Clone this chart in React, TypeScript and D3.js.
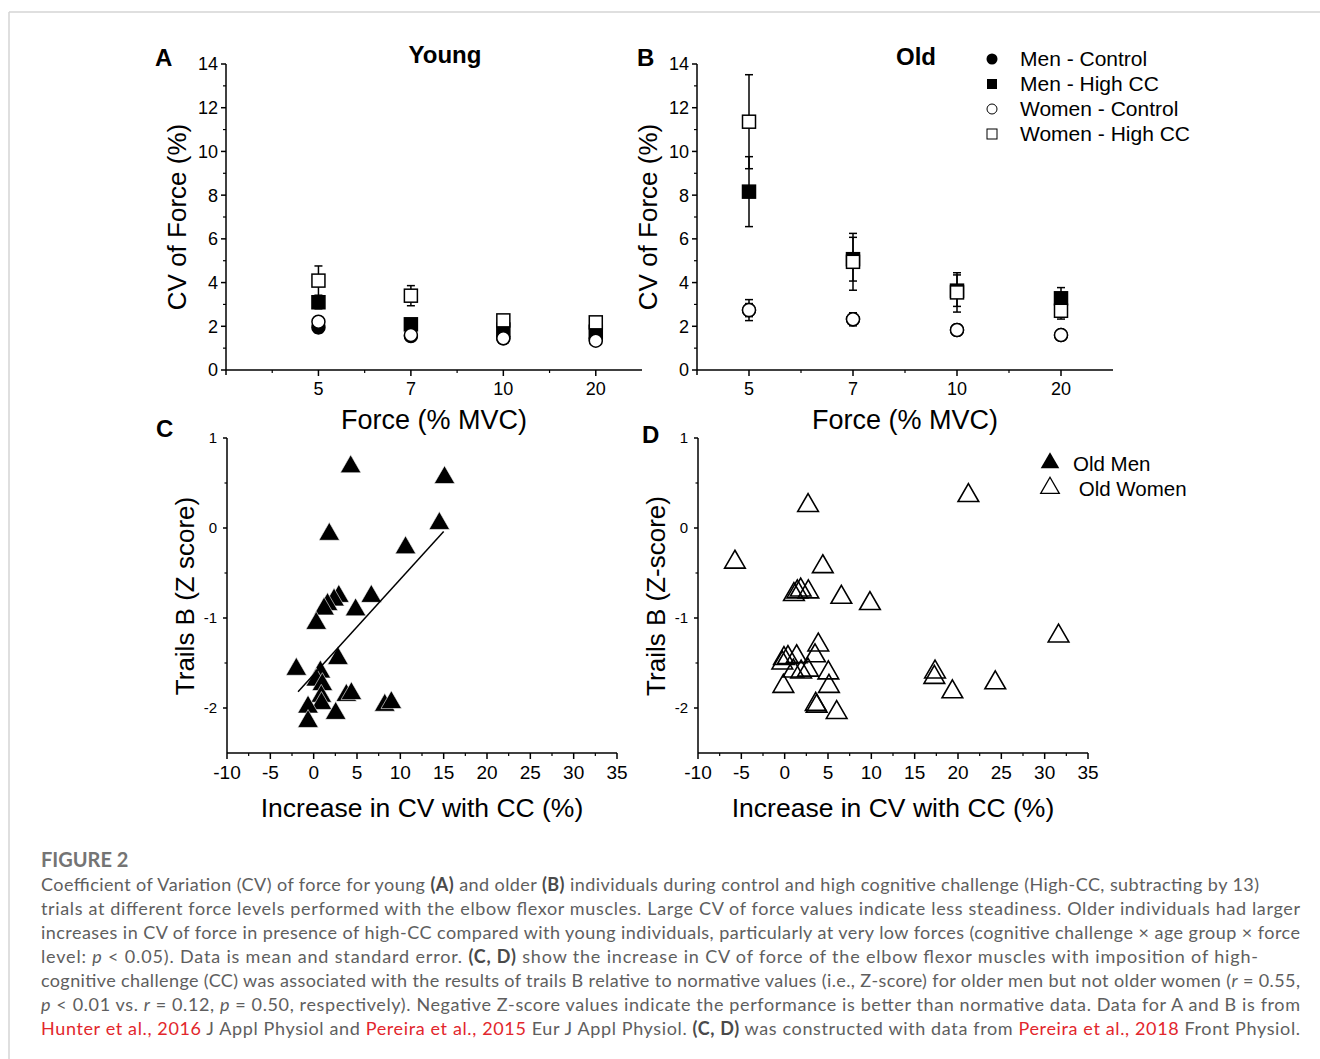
import * as d3 from "d3";

// ── Data: panels A / B (CV of force, mean ± SE) ───────────────
const forceLevels = ["5", "7", "10", "20"];

const youngMenControl = [1.95, 1.55, 1.45, 1.4];
const youngMenControlSE = [0.25, 0.12, 0.1, 0.1];
const youngMenHighCC = [3.1, 2.09, 1.85, 1.75];
const youngMenHighCCSE = [0.3, 0.2, 0.15, 0.15];
const youngWomenControl = [2.21, 1.6, 1.45, 1.34];
const youngWomenControlSE = [0.2, 0.12, 0.1, 0.1];
const youngWomenHighCC = [4.09, 3.4, 2.27, 2.18];
const youngWomenHighCCSE = [0.67, 0.46, 0.15, 0.15];

const oldMenControl = [2.74, 2.32, 1.83, 1.6];
const oldMenControlSE = [0.3, 0.2, 0.2, 0.15];
const oldMenHighCC = [8.16, 5.07, 3.63, 3.28];
const oldMenHighCCSE = [1.6, 1.0, 0.72, 0.49];
const oldWomenControl = [2.74, 2.32, 1.83, 1.6];
const oldWomenControlSE = [0.48, 0.3, 0.25, 0.2];
const oldWomenHighCC = [11.36, 4.95, 3.55, 2.71];
const oldWomenHighCCSE = [2.15, 1.3, 0.9, 0.38];

// ── Data: panels C / D (increase in CV vs Trails B z-score) ───
const oldMenIncrease = [4.27, 15.1, 14.5, 1.8, 10.6, 6.65, 2.9, 2.35, 1.6, 1.2, 4.84, 0.3, 2.8, -2.0, 0.77, 0.3, 1.0, 0.88, 0.9, 3.77, 4.35, -0.65, 2.54, -0.65, 8.2, 8.96];
const oldMenTrailsB = [0.68, 0.56, 0.05, -0.07, -0.22, -0.76, -0.76, -0.8, -0.85, -0.9, -0.91, -1.06, -1.45, -1.57, -1.6, -1.69, -1.74, -1.87, -1.95, -1.86, -1.84, -1.99, -2.06, -2.15, -1.97, -1.94];
const oldMenFitX = [-1.8, 15.0];
const oldMenFitY = [-1.82, -0.04];

const oldWomenIncrease = [2.7, 21.2, -5.74, 4.4, 1.85, 1.46, 1.07, 2.73, 6.54, 9.84, 31.6, 3.88, -0.08, 0.38, 1.38, 3.5, -0.27, 1.0, 1.9, 2.69, 5.04, 5.11, -0.15, 3.58, 3.69, 6.0, 17.35, 17.27, 19.35, 24.3];
const oldWomenTrailsB = [0.25, 0.36, -0.38, -0.43, -0.69, -0.71, -0.74, -0.71, -0.77, -0.84, -1.2, -1.3, -1.45, -1.44, -1.43, -1.42, -1.5, -1.59, -1.6, -1.58, -1.61, -1.76, -1.76, -1.96, -1.98, -2.05, -1.6, -1.66, -1.82, -1.72];

const legendAB = ["Men - Control", "Men - High CC", "Women - Control", "Women - High CC"];
const legendCD = ["Old Men", " Old Women"];

// ── Layout ────────────────────────────────────────────────────
const W = 1320;
const H = 1059;
const FONT = "'Liberation Sans', Arial, sans-serif";
const CAP_FONT = "Lato, 'Open Sans', sans-serif";

const xA = d3.scaleLinear().domain([0, 4.5]).range([226, 642]);
const xB = d3.scaleLinear().domain([0.5, 4.5]).range([697, 1113]);
const yAB = d3.scaleLinear().domain([0, 14]).range([370, 64]);
const xC = d3.scaleLinear().domain([-10, 35]).range([227, 617]);
const xD = d3.scaleLinear().domain([-10, 35]).range([698, 1088]);
const yCD = d3.scaleLinear().domain([-2.5, 1]).range([753, 438]);

const triPath = d3.symbol(d3.symbolTriangle, 185)();
const triLegend = d3.symbol(d3.symbolTriangle, 150)();

type Series = { vals: number[]; se: number[]; shape: "circle" | "square"; filled: boolean };

function seriesFor(young: boolean): Series[] {
  return young
    ? [
        { vals: youngMenControl, se: youngMenControlSE, shape: "circle", filled: true },
        { vals: youngMenHighCC, se: youngMenHighCCSE, shape: "square", filled: true },
        { vals: youngWomenHighCC, se: youngWomenHighCCSE, shape: "square", filled: false },
        { vals: youngWomenControl, se: youngWomenControlSE, shape: "circle", filled: false },
      ]
    : [
        { vals: oldMenControl, se: oldMenControlSE, shape: "circle", filled: true },
        { vals: oldMenHighCC, se: oldMenHighCCSE, shape: "square", filled: true },
        { vals: oldWomenHighCC, se: oldWomenHighCCSE, shape: "square", filled: false },
        { vals: oldWomenControl, se: oldWomenControlSE, shape: "circle", filled: false },
      ];
}

function Marker({ shape, filled, cx, cy, s }: { shape: string; filled: boolean; cx: number; cy: number; s: number }) {
  const fill = filled ? "#000" : "#fff";
  if (shape === "circle")
    return <circle cx={cx} cy={cy} r={s / 2} fill={fill} stroke="#000" strokeWidth={1.5} />;
  return <rect x={cx - s / 2} y={cy - s / 2} width={s} height={s} fill={fill} stroke="#000" strokeWidth={1.5} />;
}

// ── Panels A / B ──────────────────────────────────────────────
function CVPanel({ x, young }: { x: d3.ScaleLinear<number, number>; young: boolean }) {
  const [x0, x1] = x.range();
  const y0 = yAB(0);
  const series = seriesFor(young);
  const minor = [0.5, 1.5, 2.5, 3.5].filter(v => v > x.domain()[0]);
  return (
    <g>
      {/* axes */}
      <line x1={x0} x2={x1} y1={y0} y2={y0} stroke="#000" strokeWidth={1.5} />
      <line x1={x0} x2={x0} y1={y0} y2={yAB(14)} stroke="#000" strokeWidth={1.5} />
      <line x1={x0} x2={x0} y1={y0} y2={y0 + 5} stroke="#000" strokeWidth={1.5} />
      {d3.range(0, 15, 2).map(t => (
        <g key={t}>
          <line x1={x0 - 5} x2={x0} y1={yAB(t)} y2={yAB(t)} stroke="#000" strokeWidth={1.5} />
          <text x={x0 - 8} y={yAB(t)} dy="0.36em" textAnchor="end" fontSize={18} fontFamily={FONT}>{t}</text>
        </g>
      ))}
      {d3.range(1, 14, 2).map(t => (
        <line key={t} x1={x0 - 3} x2={x0} y1={yAB(t)} y2={yAB(t)} stroke="#000" strokeWidth={1.2} />
      ))}
      {forceLevels.map((f, i) => (
        <g key={f}>
          <line x1={x(i + 1)} x2={x(i + 1)} y1={y0} y2={y0 + 6} stroke="#000" strokeWidth={1.5} />
          <text x={x(i + 1)} y={y0 + 25} textAnchor="middle" fontSize={18} fontFamily={FONT}>{f}</text>
        </g>
      ))}
      {minor.map(t => (
        <line key={t} x1={x(t)} x2={x(t)} y1={y0} y2={y0 + 3} stroke="#000" strokeWidth={1.2} />
      ))}

      {/* error bars */}
      {series.map((s, si) =>
        s.vals.map((v, i) => {
          const cx = x(i + 1);
          const lo = yAB(v - s.se[i]);
          const hi = yAB(v + s.se[i]);
          return (
            <g key={`e${si}-${i}`} stroke="#000" strokeWidth={1.5}>
              <line x1={cx} x2={cx} y1={lo} y2={hi} />
              <line x1={cx - 4} x2={cx + 4} y1={lo} y2={lo} />
              <line x1={cx - 4} x2={cx + 4} y1={hi} y2={hi} />
            </g>
          );
        })
      )}
      {/* markers */}
      {series.map((s, si) =>
        s.vals.map((v, i) => (
          <Marker key={`m${si}-${i}`} shape={s.shape} filled={s.filled} cx={x(i + 1)} cy={yAB(v)} s={13} />
        ))
      )}

      {/* titles */}
      <text x={(x0 + x1) / 2} y={y0 + 59} textAnchor="middle" fontSize={27} fontFamily={FONT}>Force (% MVC)</text>
      <text transform={`translate(${x0 - 40},${217}) rotate(-90)`} textAnchor="middle" fontSize={26} fontFamily={FONT}>
        CV of Force (%)
      </text>
    </g>
  );
}

// ── Panels C / D ──────────────────────────────────────────────
function ZPanel({ x, xs, ys, filled, title }: { x: d3.ScaleLinear<number, number>; xs: number[]; ys: number[]; filled: boolean; title: string }) {
  const [x0, x1] = x.range();
  const y0 = yCD(-2.5);
  return (
    <g>
      <line x1={x0} x2={x1} y1={y0} y2={y0} stroke="#000" strokeWidth={1.5} />
      <line x1={x0} x2={x0} y1={y0} y2={yCD(1)} stroke="#000" strokeWidth={1.5} />
      {[-2, -1, 0, 1].map(t => (
        <g key={t}>
          <line x1={x0 - 4} x2={x0} y1={yCD(t)} y2={yCD(t)} stroke="#000" strokeWidth={1.5} />
          <text x={x0 - 10} y={yCD(t)} dy="0.36em" textAnchor="end" fontSize={15} fontFamily={FONT}>{t}</text>
        </g>
      ))}
      {[-1.5, -0.5, 0.5].map(t => (
        <line key={t} x1={x0 - 2.5} x2={x0} y1={yCD(t)} y2={yCD(t)} stroke="#000" strokeWidth={1.2} />
      ))}
      {d3.range(-10, 36, 5).map(t => (
        <g key={t}>
          <line x1={x(t)} x2={x(t)} y1={y0} y2={y0 + 6} stroke="#000" strokeWidth={1.5} />
          <text x={x(t)} y={y0 + 26} textAnchor="middle" fontSize={19} fontFamily={FONT}>{t}</text>
        </g>
      ))}
      {d3.range(-7.5, 35, 5).map(t => (
        <line key={t} x1={x(t)} x2={x(t)} y1={y0} y2={y0 + 3} stroke="#000" strokeWidth={1.2} />
      ))}

      {xs.map((v, i) => (
        <path key={i} d={triPath!} transform={`translate(${x(v)},${yCD(ys[i])})`}
          fill={filled ? "#000" : "#fff"} fillOpacity={filled ? 1 : 0}
          stroke={filled ? "#fff" : "#000"} strokeWidth={filled ? 0.6 : 1.6} />
      ))}

      <text x={(x0 + x1) / 2} y={817} textAnchor="middle" fontSize={26.5} fontFamily={FONT}>Increase in CV with CC (%)</text>
      <text transform={`translate(${x0 - 33},${596}) rotate(-90)`} textAnchor="middle" fontSize={26} fontFamily={FONT}>
        {title}
      </text>
    </g>
  );
}

// ── Caption ───────────────────────────────────────────────────
type Seg = [string, "n" | "b" | "i" | "r"];
const captionLines: { segs: Seg[]; end: number }[] = [
  { end: 1259, segs: [["Coefficient of Variation (CV) of force for young ", "n"], ["(A)", "b"], [" and older ", "n"], ["(B)", "b"], [" individuals during control and high cognitive challenge (High-CC, subtracting by 13)", "n"]] },
  { end: 1300, segs: [["trials at different force levels performed with the elbow flexor muscles. Large CV of force values indicate less steadiness. Older individuals had larger", "n"]] },
  { end: 1300, segs: [["increases in CV of force in presence of high-CC compared with young individuals, particularly at very low forces (cognitive challenge × age group × force", "n"]] },
  { end: 1258, segs: [["level: ", "n"], ["p", "i"], [" < 0.05). Data is mean and standard error. ", "n"], ["(C, D)", "b"], [" show the increase in CV of force of the elbow flexor muscles with imposition of high-", "n"]] },
  { end: 1300, segs: [["cognitive challenge (CC) was associated with the results of trails B relative to normative values (i.e., Z-score) for older men but not older women (", "n"], ["r", "i"], [" = 0.55,", "n"]] },
  { end: 1300, segs: [["p", "i"], [" < 0.01 vs. ", "n"], ["r", "i"], [" = 0.12, ", "n"], ["p", "i"], [" = 0.50, respectively). Negative Z-score values indicate the performance is better than normative data. Data for A and B is from", "n"]] },
  { end: 1300, segs: [["Hunter et al., 2016", "r"], [" J Appl Physiol and ", "n"], ["Pereira et al., 2015", "r"], [" Eur J Appl Physiol. ", "n"], ["(C, D)", "b"], [" was constructed with data from ", "n"], ["Pereira et al., 2018", "r"], [" Front Physiol.", "n"]] },
];

export default function App() {
  return (
    <svg width={W} height={H} viewBox={`0 0 ${W} ${H}`}
      style={{ position: "absolute", left: 0, top: 0, background: "#fff" }}>
      <rect x={0} y={0} width={W} height={H} fill="#fff" />
      {/* frame */}
      <line x1={9} x2={W} y1={12} y2={12} stroke="#d4d4d4" strokeWidth={1.5} />
      <line x1={9} x2={9} y1={12} y2={H} stroke="#d4d4d4" strokeWidth={1.5} />

      {/* panel letters and titles */}
      <g fontFamily={FONT} fontWeight={700} fontSize={24}>
        <text x={155} y={66}>A</text>
        <text x={637} y={66}>B</text>
        <text x={156} y={437}>C</text>
        <text x={642} y={443}>D</text>
      </g>
      <text x={445} y={63} textAnchor="middle" fontFamily={FONT} fontWeight={700} fontSize={24}>Young</text>
      <text x={916} y={65} textAnchor="middle" fontFamily={FONT} fontWeight={700} fontSize={24}>Old</text>

      <CVPanel x={xA} young={true} />
      <CVPanel x={xB} young={false} />

      {/* legend B */}
      {legendAB.map((l, i) => {
        const cy = 59 + i * 25;
        const filled = i < 2;
        const isCircle = i % 2 === 0;
        return (
          <g key={l}>
            {isCircle
              ? <circle cx={992} cy={cy} r={filled ? 5.5 : 5} fill={filled ? "#000" : "#fff"} stroke="#000" strokeWidth={filled ? 0 : 1} />
              : <rect x={987} y={cy - 5} width={10} height={10} fill={filled ? "#000" : "#fff"} stroke="#000" strokeWidth={filled ? 0 : 1} />}
            <text x={1020} y={cy + 7} fontSize={21} fontFamily={FONT}>{l}</text>
          </g>
        );
      })}

      <ZPanel x={xC} xs={oldMenIncrease} ys={oldMenTrailsB} filled={true} title="Trails B (Z score)" />
      <line x1={xC(oldMenFitX[0])} y1={yCD(oldMenFitY[0])} x2={xC(oldMenFitX[1])} y2={yCD(oldMenFitY[1])}
        stroke="#000" strokeWidth={1.5} />
      <ZPanel x={xD} xs={oldWomenIncrease} ys={oldWomenTrailsB} filled={false} title="Trails B (Z-score)" />

      {/* legend D */}
      <path d={triLegend!} transform="translate(1050,463)" fill="#000" />
      <text x={1073} y={471} fontSize={20.5} fontFamily={FONT}>{legendCD[0]}</text>
      <path d={triLegend!} transform="translate(1050,488)" fill="#fff" stroke="#000" strokeWidth={1.3} />
      <text x={1073} y={496} fontSize={20.5} fontFamily={FONT} style={{ whiteSpace: "pre" }}>{legendCD[1]}</text>

      {/* caption */}
      <text x={41} y={867} fontFamily={CAP_FONT} fontSize={20} fontWeight={700} fill="#747474">FIGURE 2</text>
      {captionLines.map((ln, li) => (
        <text key={li} x={41} y={891 + li * 24} fontFamily={CAP_FONT} fontSize={18} fill="#5e5e5e"
          textLength={ln.end - 41} lengthAdjust="spacing" style={{ whiteSpace: "pre" }}>
          {ln.segs.map(([t, k], si) => (
            <tspan key={si}
              fontWeight={k === "b" ? 700 : 400}
              fontStyle={k === "i" ? "italic" : "normal"}
              fill={k === "r" ? "#e2262c" : k === "b" ? "#4a4a4a" : "#5e5e5e"}>
              {t}
            </tspan>
          ))}
        </text>
      ))}
    </svg>
  );
}
